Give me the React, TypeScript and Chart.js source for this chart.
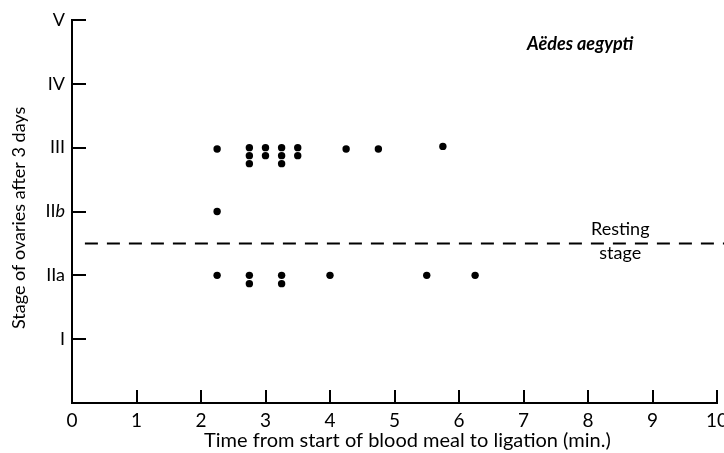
import React, { useEffect, useRef } from 'react';
import { Chart, registerables } from 'chart.js';

Chart.register(...registerables);

// ---- data ----
const stageTickLabels = ['', 'I', 'IIa', 'IIb', 'III', 'IV', 'V'];
const timeTickValues = [0, 1, 2, 3, 4, 5, 6, 7, 8, 9, 10];
const timeMin = [2.25, 2.75, 2.75, 2.75, 3.0, 3.0, 3.25, 3.25, 3.25, 3.5, 3.5, 4.25, 4.75, 5.75,
  2.25,
  2.25, 2.75, 2.75, 3.25, 3.25, 4.0, 5.5, 6.25];
const stage = [3.98, 4.0, 3.875, 3.75, 4.0, 3.875, 4.0, 3.875, 3.75, 4.0, 3.875, 3.98, 3.98, 4.02,
  3.0,
  2.0, 2.0, 1.87, 2.0, 1.87, 2.0, 2.0, 2.0];
const restingLevel = 2.5;
const restingX = [0.2, 10.2];
const speciesLabel = 'Aëdes aegypti';
const restingLabel = ['Resting', 'stage'];
const xTitle = 'Time from start of blood meal to ligation (min.)';
const yTitle = 'Stage of ovaries after 3 days';

const FONT = 'Lato';

const inwardTicks = {
  id: 'inwardTicks',
  afterDraw(chart: any) {
    const { ctx, scales } = chart;
    const xs = scales.x, ys = scales.y;
    ctx.save();
    ctx.strokeStyle = '#000';
    ctx.lineWidth = 2;
    for (let v = 1; v < stageTickLabels.length; v++) {
      const y = Math.round(ys.getPixelForValue(v));
      ctx.beginPath();
      ctx.moveTo(xs.left, y);
      ctx.lineTo(xs.left + 14, y);
      ctx.stroke();
    }
    for (const v of timeTickValues) {
      if (v === 0) continue;
      const x = Math.round(xs.getPixelForValue(v));
      ctx.beginPath();
      ctx.moveTo(x, ys.bottom);
      ctx.lineTo(x, ys.bottom - 13);
      ctx.stroke();
    }
    // IIb label with italic b
    const yb = ys.getPixelForValue(3);
    const right = xs.left - 7;
    ctx.fillStyle = '#000';
    ctx.textBaseline = 'middle';
    ctx.font = `italic 18px ${FONT}`;
    const bw = ctx.measureText('b').width;
    ctx.textAlign = 'right';
    ctx.fillText('b', right, yb);
    ctx.font = `18px ${FONT}`;
    ctx.fillText('II', right - bw, yb);

    // annotations
    ctx.textAlign = 'center';
    ctx.font = `italic bold 18px ${FONT}`;
    ctx.fillText(speciesLabel, xs.getPixelForValue(7.88), ys.getPixelForValue(5.62));
    ctx.font = `18px ${FONT}`;
    ctx.fillText(restingLabel[0], xs.getPixelForValue(8.5), ys.getPixelForValue(2.72));
    ctx.fillText(restingLabel[1], xs.getPixelForValue(8.5), ys.getPixelForValue(2.35));

    // axis titles
    ctx.font = `20px ${FONT}`;
    ctx.fillText(xTitle, xs.getPixelForValue(5.2), 441);
    ctx.save();
    ctx.translate(19, ys.getPixelForValue(2.9));
    ctx.rotate(-Math.PI / 2);
    ctx.font = `18px ${FONT}`;
    ctx.fillText(yTitle, 0, 0);
    ctx.restore();
    ctx.restore();
  },
};

export default function App() {
  const ref = useRef<HTMLCanvasElement>(null);
  useEffect(() => {
    document.body.style.margin = '0';
    const chart = new Chart(ref.current!, {
      type: 'scatter',
      data: {
        datasets: [
          {
            data: restingX.map((x) => ({ x, y: restingLevel })),
            showLine: true,
            borderColor: '#000',
            borderWidth: 2,
            borderDash: [13, 9],
            pointRadius: 0,
            clip: false as any,
          },
          {
            data: timeMin.map((x, i) => ({ x, y: stage[i] })),
            backgroundColor: '#000',
            borderColor: '#000',
            pointRadius: 3.7,
            borderWidth: 0,
          },
        ],
      },
      options: {
        responsive: false,
        animation: false,
        layout: { padding: { left: 0, right: 7, top: 20, bottom: 0 } },
        plugins: { legend: { display: false }, tooltip: { enabled: false } },
        scales: {
          x: {
            type: 'linear',
            min: 0,
            max: 10,
            grid: { display: false, drawTicks: false },
            border: { display: true, color: '#000', width: 2 },
            ticks: {
              stepSize: 1,
              padding: 6,
              color: '#000',
              font: { family: FONT, size: 19 },
              maxRotation: 0,
            },
            title: { display: false },
            afterFit(scale: any) {
              scale.height = 50;
              scale.paddingLeft = 0;
              scale.paddingRight = 0;
            },
          },
          y: {
            type: 'linear',
            min: 0,
            max: 6,
            grid: { display: false, drawTicks: false },
            border: { display: true, color: '#000', width: 2 },
            ticks: {
              stepSize: 1,
              padding: 7,
              color: '#000',
              font: { family: FONT, size: 18 },
              callback: (v: any) => (v === 3 ? '' : stageTickLabels[v] ?? ''),
            },
            title: { display: false },
            afterFit(scale: any) {
              scale.width = 72;
              scale.paddingTop = 0;
              scale.paddingBottom = 0;
            },
          },
        },
      },
      plugins: [inwardTicks],
    });
    return () => chart.destroy();
  }, []);
  return (
    <div style={{ position: 'absolute', left: 0, top: 0, width: 724, height: 453 }}>
      <canvas ref={ref} width={724} height={453} />
    </div>
  );
}
